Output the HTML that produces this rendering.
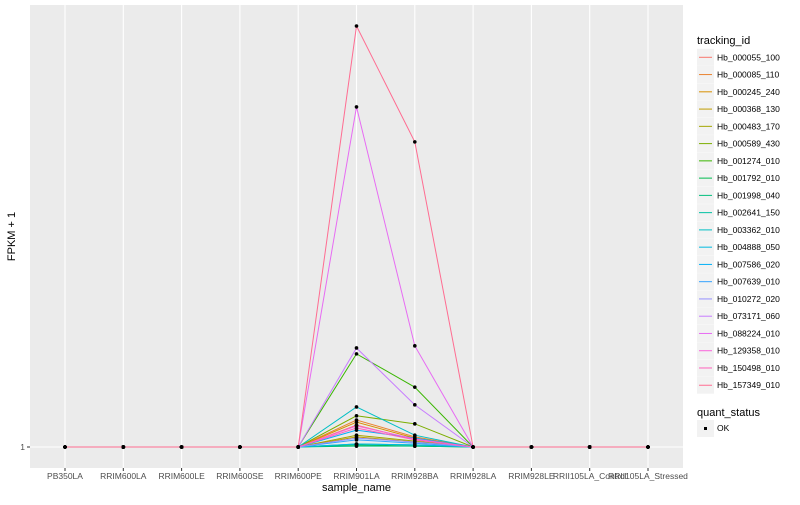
<!DOCTYPE html>
<html><head><meta charset="utf-8"><style>
body{margin:0;background:#fff;font-family:"Liberation Sans",sans-serif}
svg text{font-family:"Liberation Sans",sans-serif}
</style></head><body>
<svg id="chart" width="800" height="500" xmlns="http://www.w3.org/2000/svg"></svg>
<script>
const categories=["PB350LA","RRIM600LA","RRIM600LE","RRIM600SE","RRIM600PE","RRIM901LA","RRIM928BA","RRIM928LA","RRIM928LE","RRII105LA_Control","RRII105LA_Stressed"];
const seriesNames=["Hb_000055_100","Hb_000085_110","Hb_000245_240","Hb_000368_130","Hb_000483_170","Hb_000589_430","Hb_001274_010","Hb_001792_010","Hb_001998_040","Hb_002641_150","Hb_003362_010","Hb_004888_050","Hb_007586_020","Hb_007639_010","Hb_010272_020","Hb_073171_060","Hb_088224_010","Hb_129358_010","Hb_150498_010","Hb_157349_010"];
const colors=["#F8766D","#EA8331","#D89000","#C09B00","#A3A500","#7CAE00","#39B600","#00BB4E","#00BF7D","#00C1A3","#00BFC4","#00BAE0","#00B0F6","#35A2FF","#9590FF","#C77CFF","#E76BF3","#FA62DB","#FF62BC","#FF6C91"];
// values at RRIM901LA and RRIM928BA; all other samples = 1
const v901=[53,65,60,25,29,75,222,6,3,8,96,8,41,18,22,236,808,51,46,1000];
const v928BA=[18,25,22,13,15,56,143,3,3,6,29,6,22,10,13,101,241,20,18,725];
const yTicks=[1];
const yTickLabels=["1"];
const PL=30,PR=683,PT=5,PB=468;
const NS="http://www.w3.org/2000/svg";
const svg=document.getElementById('chart');
function xs(i){return 65+i*(648-65)/(categories.length-1);}
function ys(v){return 447-(v-1)*(421/999);}
function mk(t,a,p){const e=document.createElementNS(NS,t);for(const k in a)e.setAttribute(k,a[k]);(p||svg).appendChild(e);return e;}
const panel=mk('rect',{x:PL,y:PT,width:PR-PL,height:PB-PT,fill:'#EBEBEB'});


categories.forEach((c,i)=>{
 const g=mk('line',{x1:xs(i),x2:xs(i),y1:PT,y2:PB,stroke:'#fff','stroke-width':1.1});
 
 
 mk('line',{x1:xs(i),x2:xs(i),y1:PB,y2:PB+3,stroke:'#333','stroke-width':1});
 const t=mk('text',{x:xs(i),y:PB+11,'font-size':8.5,fill:'#4d4d4d','text-anchor':'middle'});
 t.textContent=c;
 
 
});
yTicks.forEach((v,i)=>{
 const g=mk('line',{x1:PL,x2:PR,y1:ys(v),y2:ys(v),stroke:'#fff','stroke-width':1.1});
 
 
 mk('line',{x1:PL-3,x2:PL,y1:ys(v),y2:ys(v),stroke:'#333','stroke-width':1});
 const t=mk('text',{x:PL-5,y:ys(v)+3,'font-size':8.5,fill:'#4d4d4d','text-anchor':'end'});
 t.textContent=yTickLabels[i];
 
 
});
function vals(s){return categories.map((c,i)=>i===5?v901[s]:(i===6?v928BA[s]:1));}
seriesNames.forEach((n,s)=>{
 const pts=vals(s).map((v,i)=>xs(i)+','+ys(v)).join(' ');
 const l=mk('polyline',{points:pts,fill:'none',stroke:colors[s],'stroke-width':1});
 
 
});
seriesNames.forEach((n,s)=>{
 vals(s).forEach((v,i)=>{
  const p=mk('circle',{cx:xs(i),cy:ys(v),r:1.8,fill:'#000'});
  
  
 });
});
const xt=mk('text',{x:(PL+PR)/2,y:491,'font-size':11,fill:'#000','text-anchor':'middle'});
xt.textContent='sample_name';


const yt=mk('text',{x:15,y:(PT+PB)/2,'font-size':11,fill:'#000','text-anchor':'middle',transform:'rotate(-90 15 '+(PT+PB)/2+')'});
yt.textContent='FPKM + 1';


const lt=mk('text',{x:697,y:44,'font-size':11,fill:'#000'});
lt.textContent='tracking_id';


seriesNames.forEach((n,s)=>{
 const cy=57.3+s*17.26;
 const g=mk('g',{});
 
 
 mk('rect',{x:697,y:cy-8.5,width:17,height:17,fill:'#F2F2F2'},g);
 mk('line',{x1:699,x2:712,y1:cy,y2:cy,stroke:colors[s],'stroke-width':1},g);
 const t=mk('text',{x:717,y:cy+3,'font-size':8.5,fill:'#000'},g);
 t.textContent=n;
});
const qt=mk('text',{x:697,y:416,'font-size':11,fill:'#000'});
qt.textContent='quant_status';


const qg=mk('g',{});


mk('rect',{x:697,y:420,width:17,height:17,fill:'#F2F2F2'},qg);
mk('rect',{x:704,y:427,width:3,height:3,fill:'#000'},qg);
const ok=mk('text',{x:717,y:431,'font-size':8.5,fill:'#000'},qg);
ok.textContent='OK';
</script>
</body></html>
